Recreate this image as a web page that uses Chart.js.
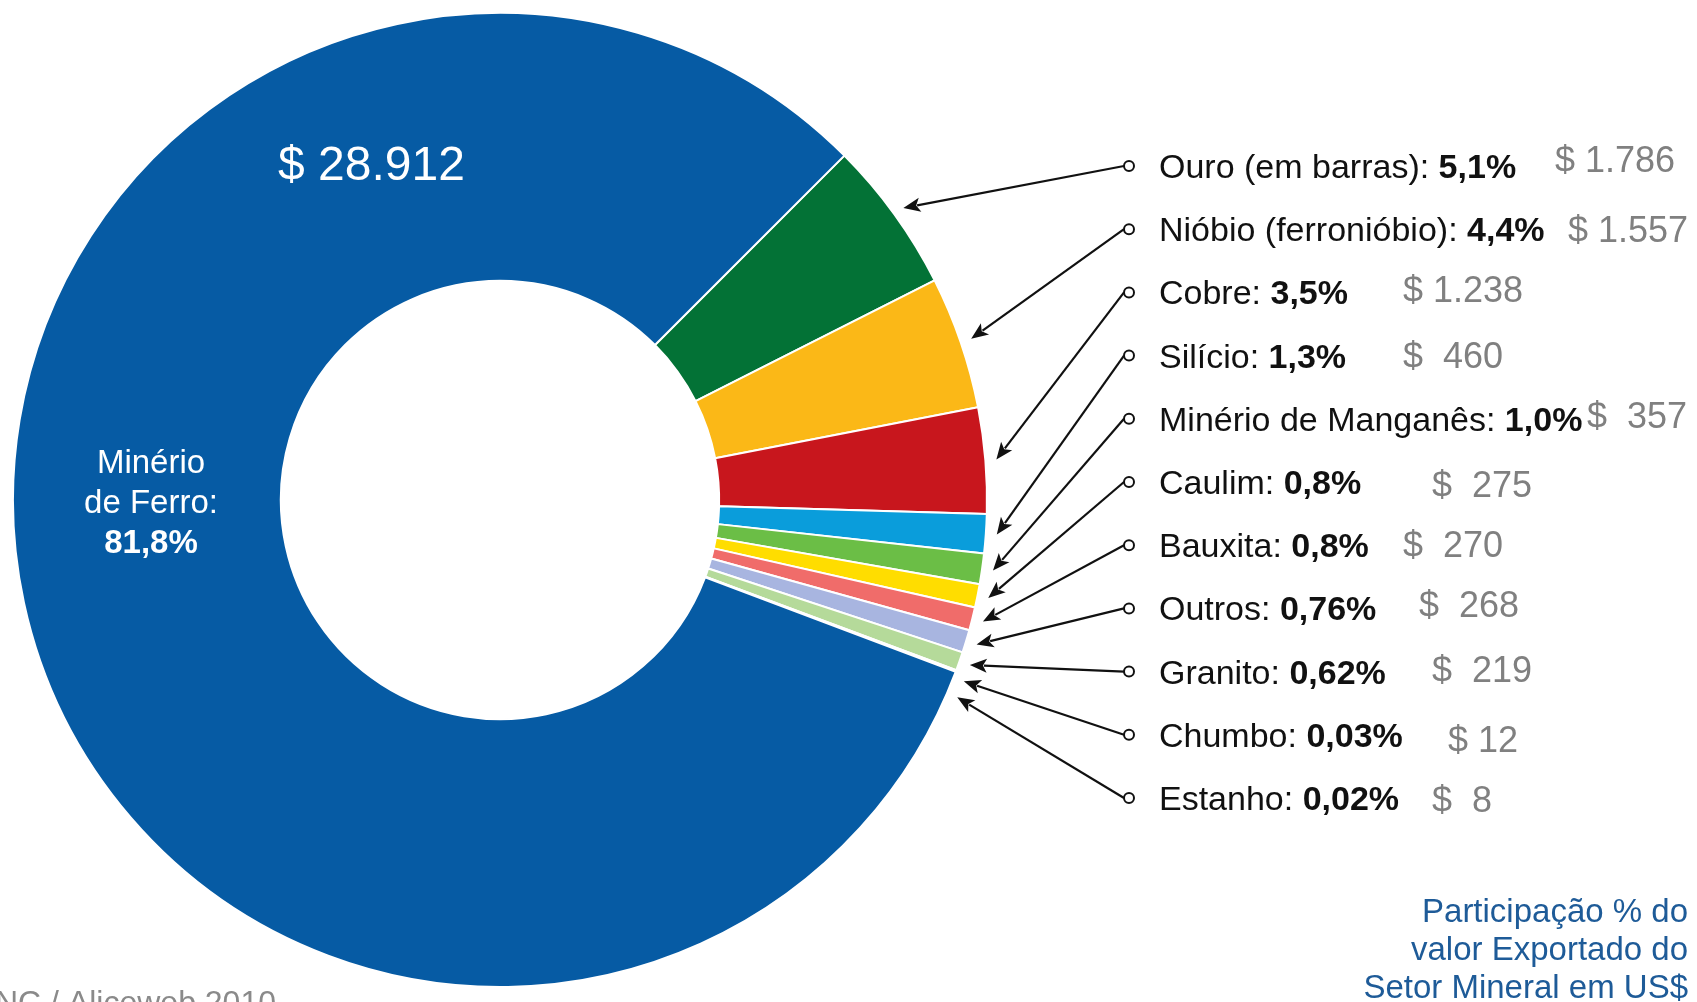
<!DOCTYPE html>
<html>
<head>
<meta charset="utf-8">
<title>Setor Mineral - Exportações</title>
<script src="https://cdn.jsdelivr.net/npm/chart.js@4.4.1/dist/chart.umd.min.js"></script>
<style>
  html, body { margin: 0; padding: 0; background: #fff; }
  canvas { display: block; }
</style>
</head>
<body>
<canvas id="chartExportacoes" width="1697" height="1002"></canvas>
<script>
// Substâncias em ordem horária, começando pelo ouro; minério de ferro por último
const substancias = [
  'Ouro (em barras)', 'Nióbio (ferronióbio)', 'Cobre', 'Silício', 'Minério de Manganês',
  'Caulim', 'Bauxita', 'Outros', 'Granito', 'Chumbo', 'Estanho', 'Minério de Ferro'
];
const participacao = ['5,1%', '4,4%', '3,5%', '1,3%', '1,0%', '0,8%', '0,8%', '0,76%', '0,62%', '0,03%', '0,02%', '81,8%'];
// Valor exportado (US$ milhões)
const valoresUS = [1786, 1557, 1238, 460, 357, 275, 270, 268, 219, 12, 8, 28912];
const cores = [
  '#037236', '#FBB817', '#C8161D', '#0A9DDB', '#6BBE46', '#FFDD00',
  '#F06C6A', '#A8B5E0', '#B5DA9A', '#FFF5B3', '#FBCB9B', '#065BA4'
];
const notaTexto = ['Participação % do', 'valor Exportado do', 'Setor Mineral em US$'];
const fonteTexto = 'DNPM/DNC / Aliceweb 2010';

// Layout dos rótulos à direita
const FONTE = "'Liberation Sans', Arial, Helvetica, sans-serif";
const ROTULO_X = 1159;
const MARCA_X = 1129;
const LINHA_Y0 = 178;
const LINHA_PASSO = 63.2;
const VALOR_X = [1555, 1568, 1403, 1403, 1587, 1432, 1403, 1419, 1432, 1448, 1432];
const VALOR_DY = [-6, 1, -2, 0, -3, 3, 0, -3, -2, 5, 2];
const GAP_MIN = 2 * Math.PI / 180;

function formataValor(v) {
  const txt = String(v).replace(/\B(?=(\d{3})+(?!\d))/g, '.');
  if (v >= 1000) return '$ ' + txt;
  return (v >= 10 && v < 100 ? '$ ' : '$  ') + txt;
}

function seta(ctx, x0, y0, x1, y1) {
  const dx = x1 - x0, dy = y1 - y0;
  const len = Math.hypot(dx, dy);
  const ux = dx / len, uy = dy / len;
  const bx = x1 - ux * 17, by = y1 - uy * 17;
  ctx.beginPath();
  ctx.moveTo(x0, y0);
  ctx.lineTo(bx + ux * 3, by + uy * 3);
  ctx.stroke();
  ctx.beginPath();
  ctx.moveTo(x1, y1);
  ctx.lineTo(bx - uy * 7, by + ux * 7);
  ctx.lineTo(bx + ux * 4, by + uy * 4);
  ctx.lineTo(bx + uy * 7, by - ux * 7);
  ctx.closePath();
  ctx.fill();
}

// Rótulos, setas e textos sobre o gráfico
const rotulosSetas = {
  id: 'rotulosSetas',
  afterDraw(chart) {
    const { ctx } = chart;
    const arcs = chart.getDatasetMeta(0).data;
    const n = substancias.length - 1;
    ctx.save();
    ctx.textBaseline = 'alphabetic';

    let ultimo = -Infinity;
    for (let i = 0; i < n; i++) {
      const p = arcs[i].getProps(['x', 'y', 'startAngle', 'endAngle', 'outerRadius'], true);
      let ang = (p.startAngle + p.endAngle) / 2;
      if (ang < ultimo + GAP_MIN) ang = ultimo + GAP_MIN;
      ultimo = ang;
      const r = p.outerRadius + 11;
      const tx = p.x + Math.cos(ang) * r;
      const ty = p.y + Math.sin(ang) * r;
      const base = LINHA_Y0 + i * LINHA_PASSO;
      const cy = base - 12;

      ctx.strokeStyle = '#111';
      ctx.fillStyle = '#111';
      ctx.lineWidth = 2.2;
      seta(ctx, MARCA_X - 5, cy, tx, ty);
      ctx.beginPath();
      ctx.arc(MARCA_X, cy, 5, 0, Math.PI * 2);
      ctx.fillStyle = '#fff';
      ctx.fill();
      ctx.lineWidth = 2;
      ctx.stroke();

      ctx.fillStyle = '#111';
      ctx.textAlign = 'left';
      ctx.font = `34px ${FONTE}`;
      const nome = substancias[i] + ': ';
      ctx.fillText(nome, ROTULO_X, base);
      const w = ctx.measureText(nome).width;
      ctx.font = `bold 34px ${FONTE}`;
      ctx.fillText(participacao[i], ROTULO_X + w, base);

      ctx.fillStyle = '#808080';
      ctx.font = `36px ${FONTE}`;
      ctx.fillText(formataValor(valoresUS[i]), VALOR_X[i], base + VALOR_DY[i]);
    }

    // Minério de ferro, dentro da fatia azul
    const partes = substancias[n].split(' ');
    ctx.fillStyle = '#fff';
    ctx.textAlign = 'center';
    ctx.font = `33px ${FONTE}`;
    ctx.fillText(partes[0], 151, 473);
    ctx.fillText(partes.slice(1).join(' ') + ':', 151, 513);
    ctx.font = `bold 33px ${FONTE}`;
    ctx.fillText(participacao[n], 151, 553);
    ctx.textAlign = 'left';
    ctx.font = `48px ${FONTE}`;
    ctx.fillText(formataValor(valoresUS[n]), 278, 180);

    // Nota e fonte
    ctx.fillStyle = '#1E5B98';
    ctx.textAlign = 'right';
    ctx.font = `33px ${FONTE}`;
    notaTexto.forEach((t, k) => ctx.fillText(t, 1688, 922 + k * 38));
    ctx.fillStyle = '#8A8A8A';
    ctx.font = `32px ${FONTE}`;
    ctx.fillText(fonteTexto, 276, 1013);
    ctx.restore();
  }
};

new Chart(document.getElementById('chartExportacoes'), {
  type: 'doughnut',
  data: {
    labels: substancias,
    datasets: [{
      data: valoresUS,
      backgroundColor: cores,
      borderColor: '#fff',
      borderWidth: 2,
    }]
  },
  options: {
    responsive: false,
    animation: false,
    cutout: '45%',
    rotation: 45,
    layout: { padding: { left: 12, top: 12, right: 709, bottom: 14 } },
    plugins: {
      legend: { display: false },
      tooltip: { enabled: false },
    }
  },
  plugins: [rotulosSetas]
});
</script>
</body>
</html>
